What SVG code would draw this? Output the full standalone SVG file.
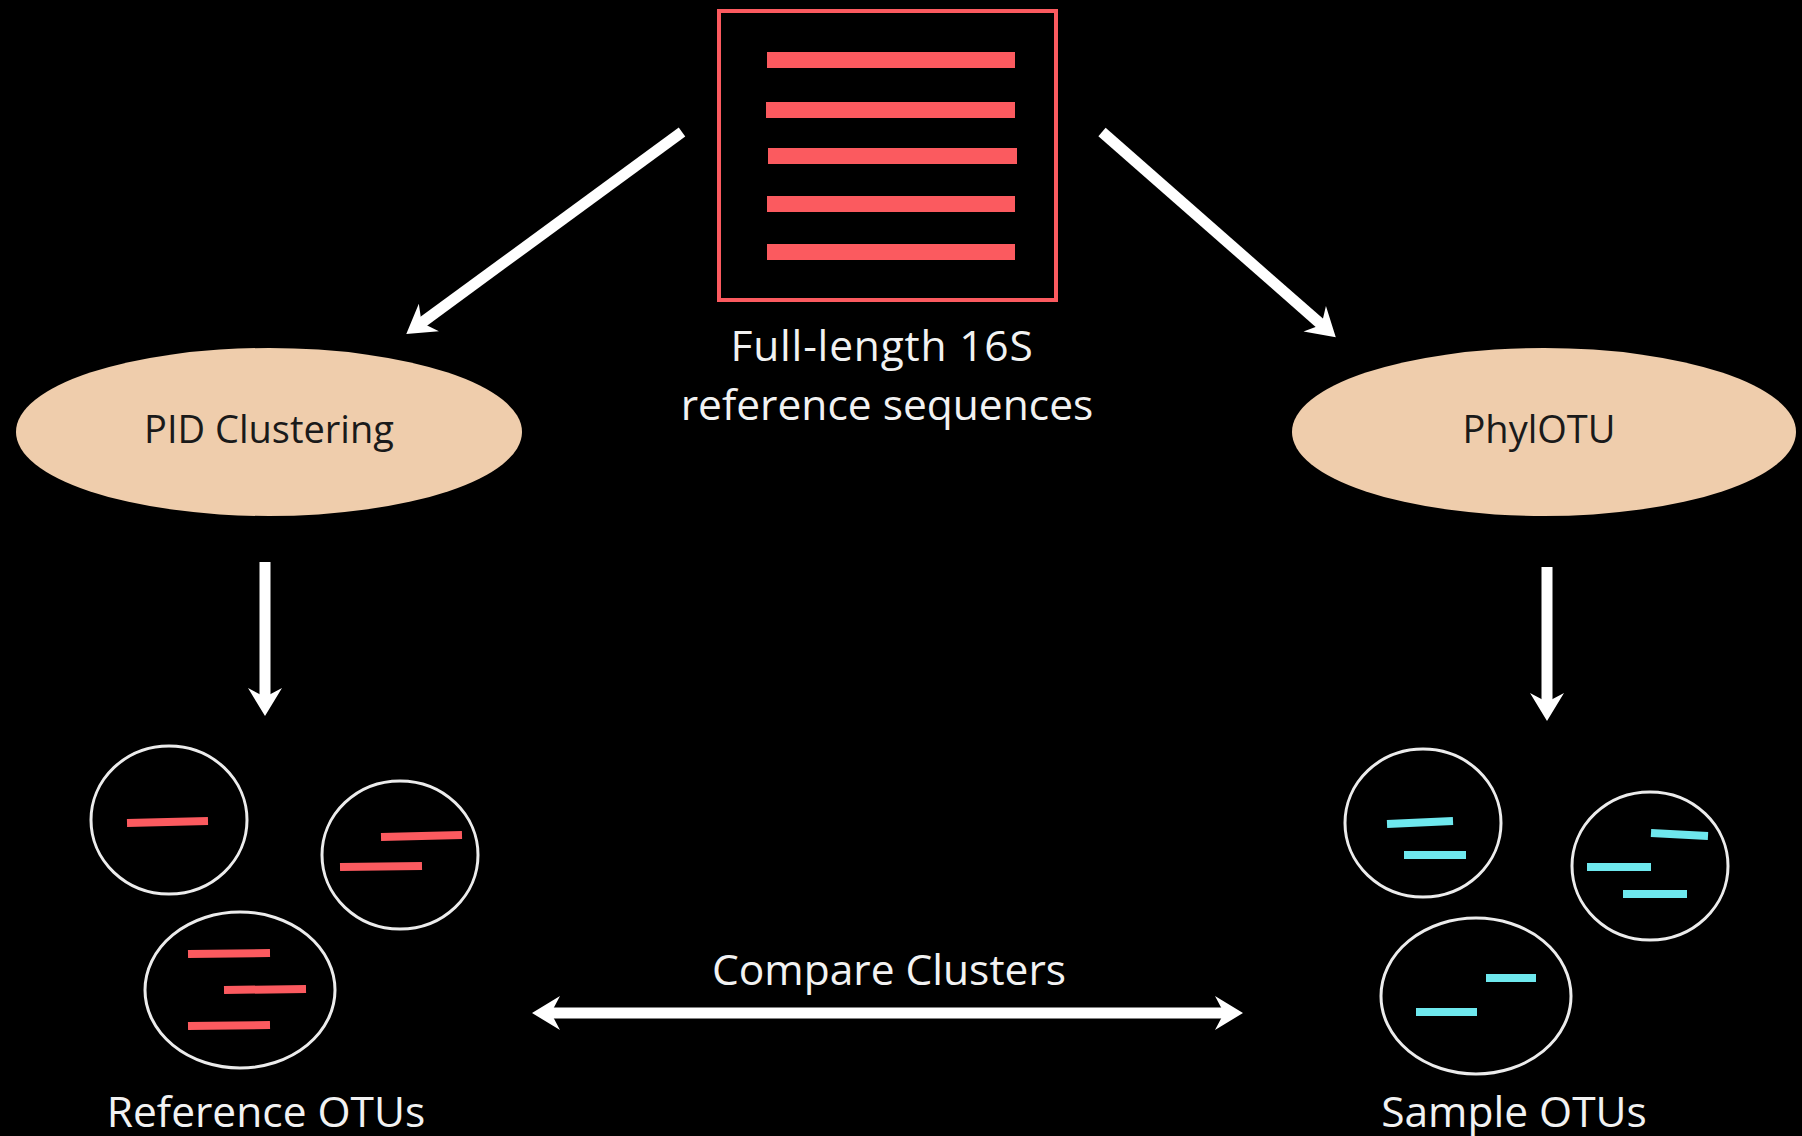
<svg xmlns="http://www.w3.org/2000/svg" width="1802" height="1136" viewBox="0 0 1802 1136">
  <defs>
    <style>
      .lbl { font-family: "Open Sans", "Noto Sans", "Liberation Sans", sans-serif; font-size: 42.5px; fill: #f2f2f2; text-anchor: middle; }
      .nodelbl { font-family: "Open Sans", "Noto Sans", "Liberation Sans", sans-serif; font-size: 38px; fill: #1a1a1a; text-anchor: middle; }
      .proc { fill: #efcdac; }
      .otu { fill: none; stroke: #ececec; stroke-width: 3; }
      .red { stroke: #fb5a5f; stroke-width: 8; }
      .cyan { stroke: #6ee8ee; stroke-width: 8; }
      .bar { fill: #fb5a5f; }
      .conn { stroke: #ffffff; stroke-width: 11; fill: none; }
    </style>
    <marker id="head" markerUnits="userSpaceOnUse" viewBox="0 0 32 36" markerWidth="32" markerHeight="36" refX="13" refY="18" orient="auto-start-reverse">
      <path d="M30,18 L2,1 L11,18 L2,35 Z" fill="#ffffff"/>
    </marker>
  </defs>
  <rect width="1802" height="1136" fill="#000000"/>

  <g id="connectors">
    <line class="conn" x1="682" y1="132" x2="420" y2="324" marker-end="url(#head)"/>
    <line class="conn" x1="1102" y1="132" x2="1323" y2="326" marker-end="url(#head)"/>
    <line class="conn" x1="265" y1="562" x2="265" y2="699" marker-end="url(#head)"/>
    <line class="conn" x1="1547" y1="567" x2="1547" y2="704" marker-end="url(#head)"/>
    <line class="conn" x1="549" y1="1013" x2="1226" y2="1013" marker-start="url(#head)" marker-end="url(#head)"/>
    <text class="lbl" x="889" y="985">Compare Clusters</text>
  </g>

  <g id="reference-sequences">
    <rect x="719" y="11" width="337" height="289" fill="none" stroke="#fb5a5f" stroke-width="4"/>
    <rect class="bar" x="767" y="52" width="248" height="16"/>
    <rect class="bar" x="766" y="102" width="249" height="16"/>
    <rect class="bar" x="768" y="148" width="249" height="16"/>
    <rect class="bar" x="767" y="196" width="248" height="16"/>
    <rect class="bar" x="767" y="244" width="248" height="16"/>
    <text class="lbl" x="882" y="361" letter-spacing="0.8">Full-length 16S</text>
    <text class="lbl" x="887" y="420">reference sequences</text>
  </g>

  <g id="pid-clustering">
    <ellipse class="proc" cx="269" cy="432" rx="253" ry="84"/>
    <text class="nodelbl" x="269" y="443">PID Clustering</text>
  </g>

  <g id="phylotu">
    <ellipse class="proc" cx="1544" cy="432" rx="252" ry="84"/>
    <text class="nodelbl" x="1539" y="443">PhylOTU</text>
  </g>

  <g id="reference-otus">
    <ellipse class="otu" cx="169" cy="820" rx="78" ry="74"/>
    <line class="red" x1="127" y1="823" x2="208" y2="821"/>
    <ellipse class="otu" cx="400" cy="855" rx="78" ry="74"/>
    <line class="red" x1="381" y1="837" x2="462" y2="835"/>
    <line class="red" x1="340" y1="867" x2="422" y2="866"/>
    <ellipse class="otu" cx="240" cy="990" rx="95" ry="78"/>
    <line class="red" x1="188" y1="954" x2="270" y2="953"/>
    <line class="red" x1="224" y1="990" x2="306" y2="989"/>
    <line class="red" x1="188" y1="1026" x2="270" y2="1025"/>
    <text class="lbl" x="266" y="1127">Reference OTUs</text>
  </g>

  <g id="sample-otus">
    <ellipse class="otu" cx="1423" cy="823" rx="78" ry="74"/>
    <line class="cyan" x1="1387" y1="824" x2="1453" y2="821"/>
    <line class="cyan" x1="1404" y1="855" x2="1466" y2="855"/>
    <ellipse class="otu" cx="1650" cy="866" rx="78" ry="74"/>
    <line class="cyan" x1="1651" y1="833" x2="1708" y2="836"/>
    <line class="cyan" x1="1587" y1="867" x2="1651" y2="867"/>
    <line class="cyan" x1="1623" y1="894" x2="1687" y2="894"/>
    <ellipse class="otu" cx="1476" cy="996" rx="95" ry="78"/>
    <line class="cyan" x1="1486" y1="978" x2="1536" y2="978"/>
    <line class="cyan" x1="1416" y1="1012" x2="1477" y2="1012"/>
    <text class="lbl" x="1514" y="1127">Sample OTUs</text>
  </g>
</svg>
